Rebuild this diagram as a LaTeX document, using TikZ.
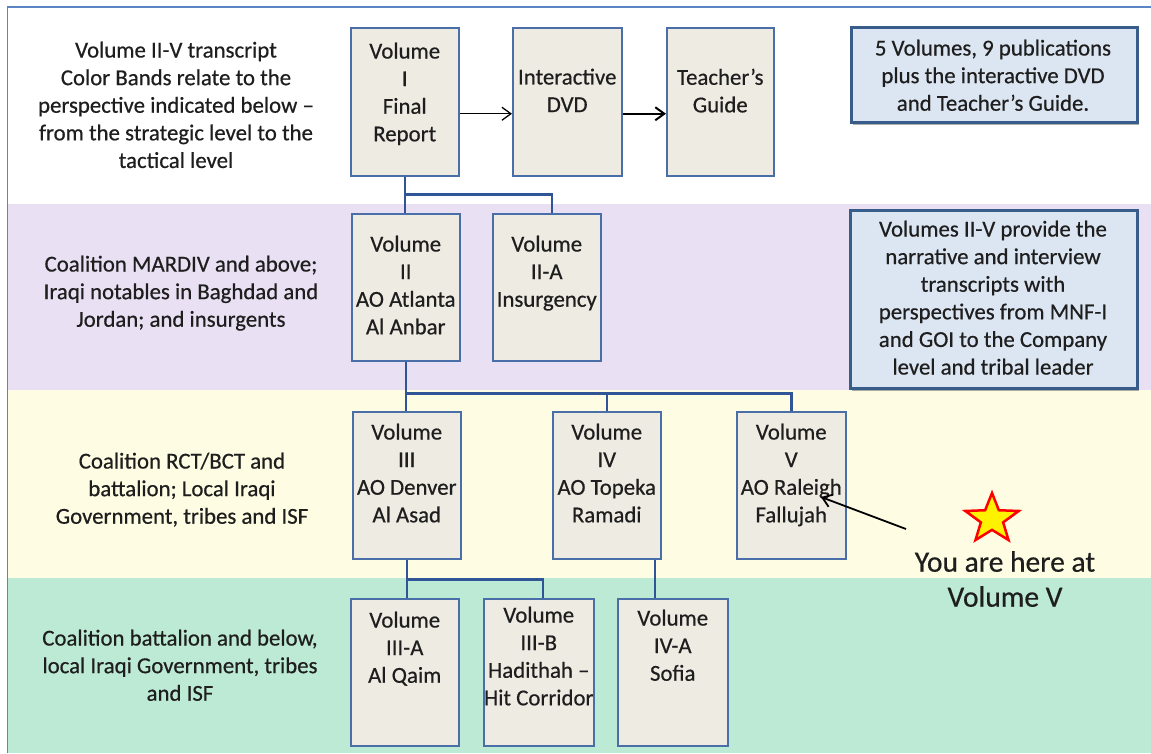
\documentclass[tikz,border=0pt]{standalone}
\usepackage{fontspec}
\setmainfont{Carlito}[FakeBold=0.5]
\usetikzlibrary{arrows.meta,shapes.geometric,shadows}
\definecolor{frameblue}{HTML}{5B84C4}
\definecolor{boxblue}{HTML}{4A6FA8}
\definecolor{connblue}{HTML}{2F5597}
\definecolor{boxfill}{HTML}{EEEBE3}
\definecolor{bandpurple}{HTML}{EAE0F3}
\definecolor{bandyellow}{HTML}{FEFDE3}
\definecolor{bandgreen}{HTML}{BDEAD4}
\definecolor{infofill}{HTML}{DCE6F2}
\definecolor{infoborder}{HTML}{385D8A}
\definecolor{txt}{HTML}{1E1E1E}
\newcommand{\mainsz}{\fontsize{22.8}{27.6}\selectfont}
\newcommand{\bigsz}{\fontsize{29.5}{35}\selectfont}
\begin{document}
\begin{tikzpicture}[x=1pt,y=-1pt,
  vbox/.style={draw=boxblue,line width=1.5pt,fill=boxfill,minimum height=147pt,inner sep=0pt,anchor=north west},
  lbl/.style={text=txt,align=center,inner sep=0pt,font=\mainsz,anchor=north},
  biglbl/.style={text=txt,align=center,inner sep=0pt,font=\bigsz,anchor=north},
  conn/.style={draw=connblue,line width=2.5pt},
  infobox/.style={draw=infoborder,line width=2.5pt,fill=infofill,inner sep=0pt,anchor=north west,
     drop shadow={shadow xshift=2pt,shadow yshift=-3pt,opacity=0.45,fill=black!70}},
  arr/.style={draw=black,-{Straight Barb[length=9pt,width=13pt]}}
]
\useasboundingbox (0,0) rectangle (1151,753);
% bands and frame
\fill[white] (0,0) rectangle (1151,753);
\fill[bandpurple] (8,204) rectangle (1151,390);
\fill[bandyellow] (8,390) rectangle (1151,578);
\fill[bandgreen] (8,578) rectangle (1151,753);
\draw[frameblue,line width=1.5pt] (7.5,753) -- (7.5,7) -- (1151,7);

% boxes
\node[vbox,minimum width=108pt,minimum height=148pt] (v1) at (350,27) {};
\node[vbox,minimum width=109pt,minimum height=148pt] (dvd) at (512,27) {};
\node[vbox,minimum width=107pt,minimum height=148pt] (tg) at (666,27) {};
\node[vbox,minimum width=108pt] (v2) at (351,213) {};
\node[vbox,minimum width=108pt] (v2a) at (492,213) {};
\node[vbox,minimum width=108pt] (v3) at (352,411) {};
\node[vbox,minimum width=108pt] (v4) at (552,411) {};
\node[vbox,minimum width=109pt] (v5) at (736,411) {};
\node[vbox,minimum width=108pt] (v3a) at (350,598) {};
\node[vbox,minimum width=110pt] (v3b) at (483,598) {};
\node[vbox,minimum width=110pt] (v4a) at (617,598) {};

% info boxes
\node[infobox,minimum width=286pt,minimum height=95pt] (info1) at (850,26) {};
\node[infobox,minimum width=287pt,minimum height=178pt] (info2) at (849,209) {};

% connectors
\draw[conn] (v1.south) -- (v1.south |- v2.north);
\draw[conn] (v1.south) -- ++(0,18) -| ([xshift=5pt]v2a.north);
\draw[conn] (v2.south) -- (v2.south |- v3.north);
\draw[conn] (v2.south) -- ++(0,32) -| (v4.north);
\draw[conn] (v2.south) -- ++(0,32) -| (v5.north);
\draw[conn] (v3.south) -- (v3.south |- v3a.north);
\draw[conn] (v3.south) -- ++(0,20) -| ([xshift=4pt]v3b.north);
\draw[conn] ([xshift=48pt]v4.south) -- ([xshift=48pt]v4.south |- v4a.north);

% arrows
\draw[arr,line width=1.3pt] ([yshift=-12pt]v1.east) -- ([yshift=-12pt]dvd.west);
\draw[arr,line width=2pt] ([yshift=-12pt]dvd.east) -- ([yshift=-12pt]tg.west);

% box texts
\node[lbl] (v1t) at ([yshift=-15.5pt]v1.north) {Volume\\I\\Final\\Report};
\node[lbl] (dvdt) at ([yshift=-41.5pt]dvd.north) {Interactive\\DVD};
\node[lbl] (tgt) at ([yshift=-41.5pt]tg.north) {Teacher’s\\Guide};
\node[lbl] (v2t) at ([yshift=-22.5pt]v2.north) {Volume\\II\\AO Atlanta\\Al Anbar};
\node[lbl] (v2at) at ([yshift=-22.5pt]v2a.north) {Volume\\II-A\\Insurgency};
\node[lbl] (v3t) at ([yshift=-12.5pt]v3.north) {Volume\\III\\AO Denver\\Al Asad};
\node[lbl] (v4t) at ([yshift=-12.5pt]v4.north) {Volume\\IV\\AO Topeka\\Ramadi};
\node[lbl] (v5t) at ([yshift=-12.5pt]v5.north) {Volume\\V\\AO Raleigh\\Fallujah};
\node[lbl] (v3at) at ([yshift=-13.5pt]v3a.north) {Volume\\III-A\\Al Qaim};
\node[lbl] (v3bt) at ([yshift=-8.5pt]v3b.north) {Volume\\III-B\\Hadithah –\\Hit Corridor};
\node[lbl] (v4at) at ([yshift=-11.5pt]v4a.north) {Volume\\IV-A\\Sofia};

% info texts
\node[lbl] (info1t) at (993,39.5) {5 Volumes, 9 publications\\plus the interactive DVD\\and Teacher’s  Guide.};
\node[lbl] (info2t) at (993,220.5) {Volumes II-V provide  the\\narrative and interview\\transcripts with\\perspectives from MNF-I\\and GOI to the Company\\level and tribal leader};

% band texts
\node[lbl] (lt1) at (176,41.5) {Volume II-V transcript\\Color Bands relate to the\\perspective indicated below –\\from the strategic level to the\\tactical level};
\node[lbl] (lt2) at (181,255.5) {Coalition MARDIV and above;\\Iraqi notables in Baghdad and\\Jordan; and insurgents};
\node[lbl] (lt3) at (182,452.5) {Coalition RCT/BCT and\\battalion; Local Iraqi\\Government, tribes and ISF};
\node[lbl] (lt4) at (180,629.5) {Coalition battalion and below,\\local Iraqi Government, tribes\\and ISF};

% star and "you are here"
\node[star,star points=5,star point ratio=2.4,minimum size=52pt,inner sep=0pt,draw=red,fill=yellow,line width=2.5pt,xscale=1.08] (star1) at (992,519) {};
\node[biglbl] (you) at (1005,551) {You are here at\\Volume V};
\coordinate (youtail) at (906,529);
\coordinate (youhead) at (821,497);
\draw[arr,line width=1.8pt] (youtail) -- (youhead);
\end{tikzpicture}
\end{document}
